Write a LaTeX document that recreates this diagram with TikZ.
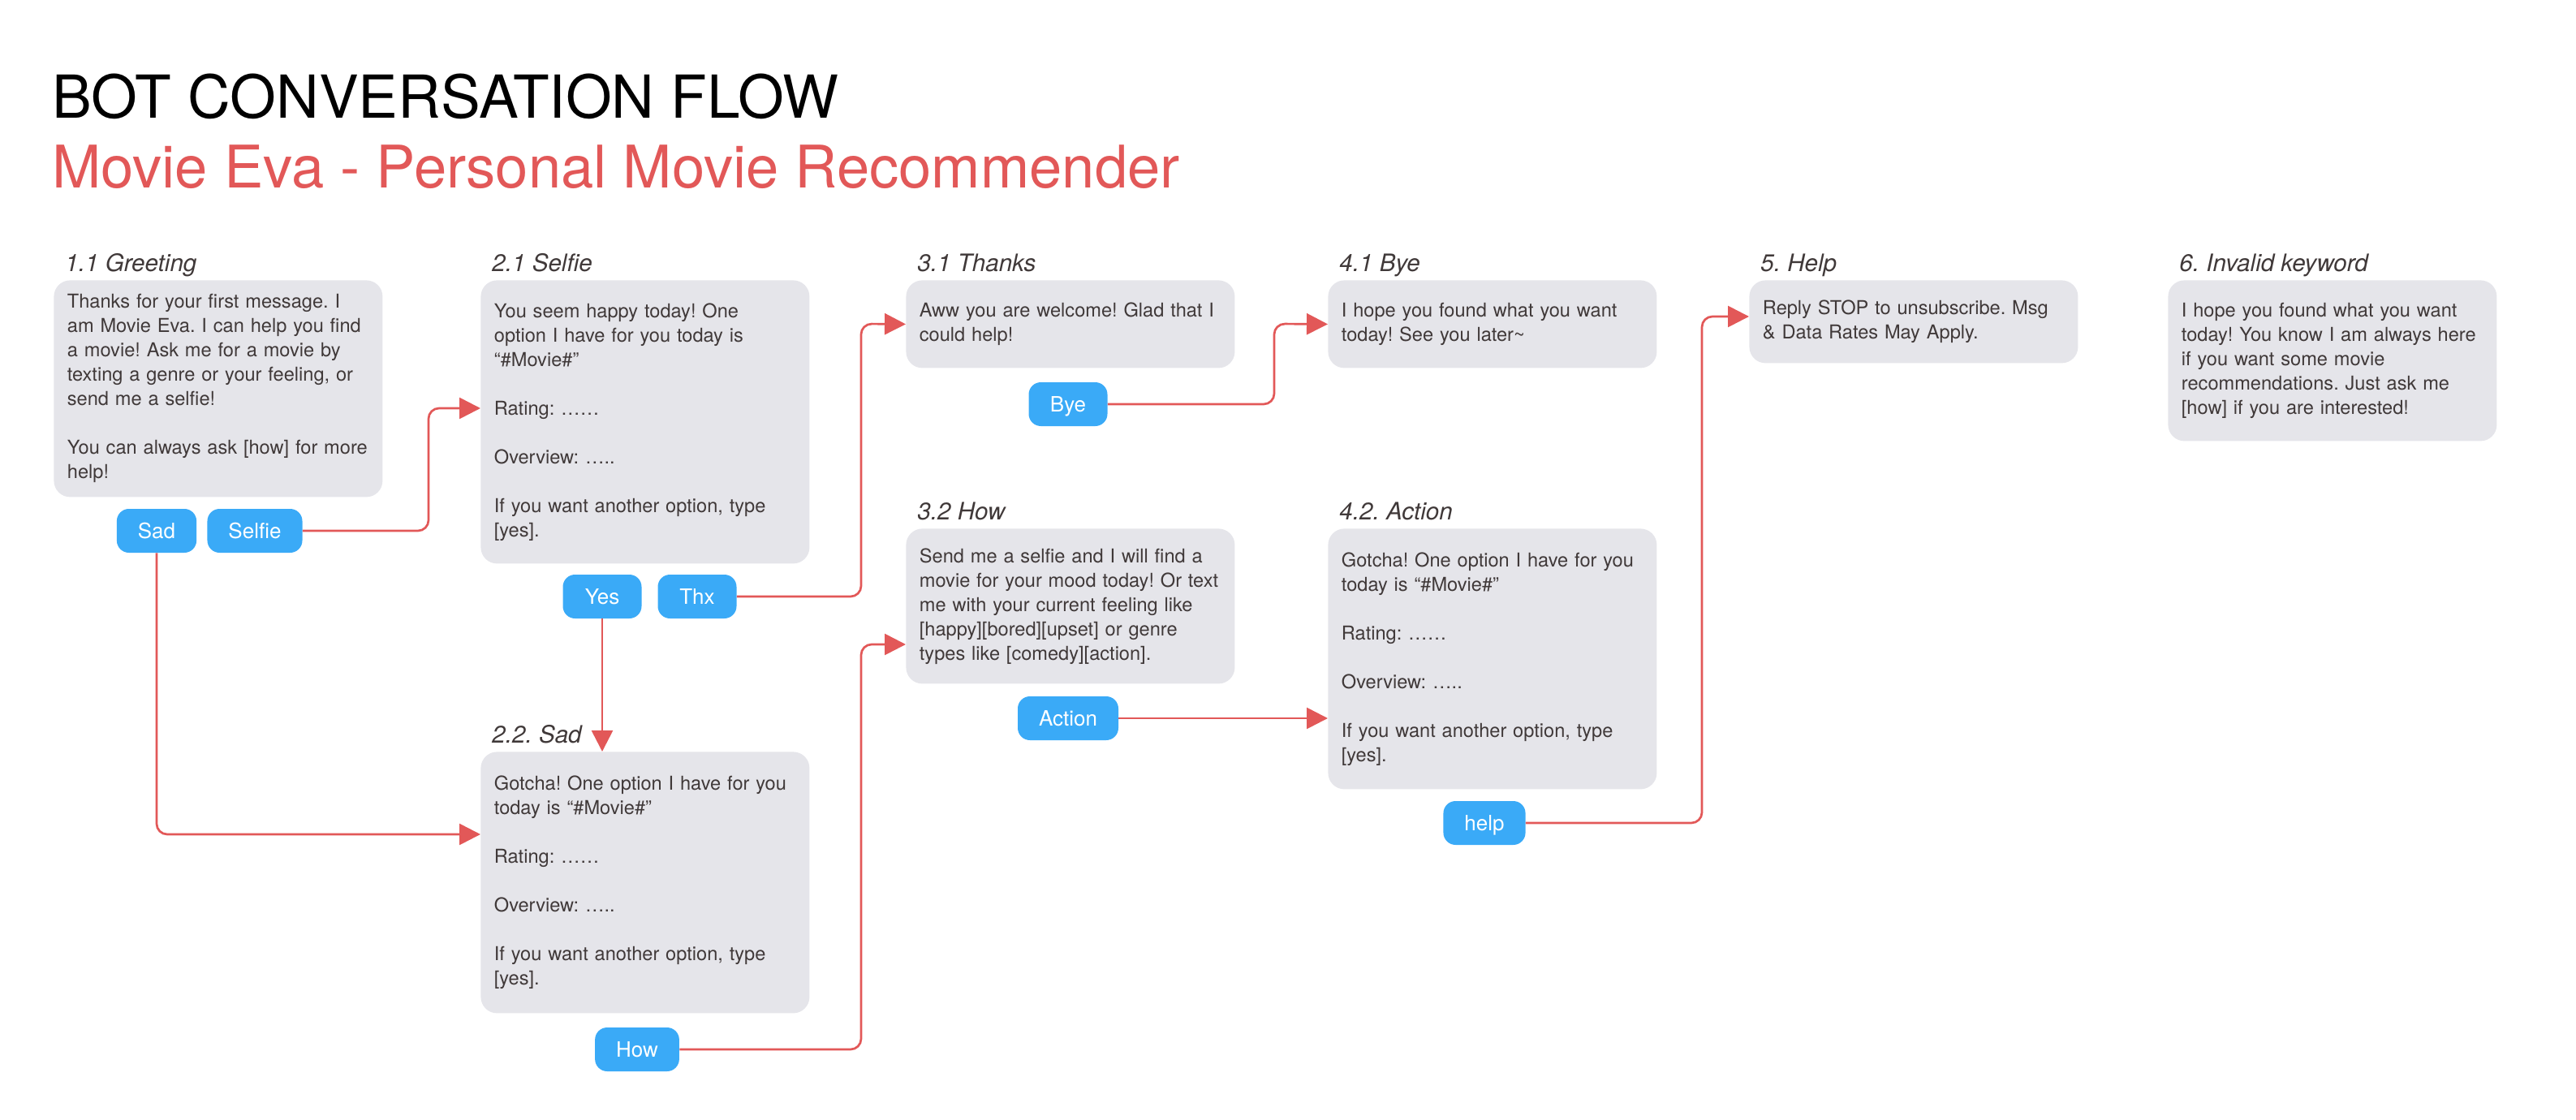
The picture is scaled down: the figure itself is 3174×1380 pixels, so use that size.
\documentclass[tikz,border=0pt]{standalone}
\usepackage{fontspec}
\setmainfont{TeX Gyre Heros}
\usetikzlibrary{arrows.meta}
\frenchspacing

\definecolor{bubble}{RGB}{229,229,234}
\definecolor{keyblue}{RGB}{58,170,247}
\definecolor{flowred}{RGB}{226,88,88}
\definecolor{inkgray}{RGB}{64,57,57}

\begin{document}
\begin{tikzpicture}[x=0.5pt, y=-0.5pt,
  msg/.style={fill=bubble, rounded corners=10pt, anchor=north west, align=left,
    text width=186pt, inner xsep=8.25pt, inner ysep=0pt, text=inkgray,
    font=\fontsize{11.8}{15}\selectfont},
  stage/.style={anchor=base west, inner sep=0pt, text=inkgray,
    font=\fontsize{14.8}{18}\selectfont\itshape},
  key/.style={fill=keyblue, text=white, rounded corners=7.5pt, minimum height=27pt,
    minimum width=48.5pt, inner xsep=13pt, text height=9.4pt, text depth=0pt,
    font=\fontsize{13}{15}\selectfont},
  flow/.style={draw=flowred, line width=1.35pt, rounded corners=6.5pt,
    -{Triangle[length=13pt, width=13pt]}}]
\useasboundingbox (0,0) rectangle (3174,1380);

% Heading
\node[anchor=base west, inner sep=0pt, font=\fontsize{36.5}{40}\selectfont] (head) at (64,146) {BOT CONVERSATION FLOW};
\node[anchor=base west, inner sep=0pt, text=flowred, font=\fontsize{36.2}{40}\selectfont] (subhead) at (64,232) {Movie Eva - Personal Movie Recommender};

% Message bubbles, first row
\node[msg, minimum height=133.5pt] (greeting) at (66,345) {Thanks for your first message. I\\am Movie Eva. I can help you find\\a movie! Ask me for a movie by\\texting a genre or your feeling, or\\send me a selfie!\\[15pt]You can always ask [how] for more\\help!};
\node[msg, minimum height=174.5pt] (selfie) at (592,345) {You seem happy today! One\\option I have for you today is\\“\#Movie\#”\\[15pt]Rating: ……\\[15pt]Overview: …..\\[15pt]If you want another option, type\\{}[yes].};
\node[msg, minimum height=54pt] (thanks) at (1116,345) {Aww you are welcome! Glad that I\\could help!};
\node[msg, minimum height=54pt] (bye) at (1636,345) {I hope you found what you want\\today! See you later\textasciitilde};
\node[msg, minimum height=51pt] (help) at (2155,345) {Reply STOP to unsubscribe. Msg\\\& Data Rates May Apply.};
\node[msg, minimum height=99pt] (invalid) at (2671,345) {I hope you found what you want\\today! You know I am always here\\if you want some movie\\recommendations. Just ask me\\{}[how] if you are interested!};

% Message bubbles, lower rows
\node[msg, minimum height=95.5pt] (how) at (1116,651) {Send me a selfie and I will find a\\movie for your mood today! Or text\\me with your current feeling like\\{}[happy][bored][upset] or genre\\types like [comedy][action].};
\node[msg, minimum height=160.5pt] (action) at (1636,651) {Gotcha! One option I have for you\\today is “\#Movie\#”\\[15pt]Rating: ……\\[15pt]Overview: …..\\[15pt]If you want another option, type\\{}[yes].};
\node[msg, minimum height=161pt] (sad) at (592,926) {Gotcha! One option I have for you\\today is “\#Movie\#”\\[15pt]Rating: ……\\[15pt]Overview: …..\\[15pt]If you want another option, type\\{}[yes].};

% Stage titles
\node[stage] (greetingTag) at ([shift={(14,-11)}]greeting.north west) {1.1 Greeting};
\node[stage] (selfieTag) at ([shift={(14,-11)}]selfie.north west) {2.1 Selfie};
\node[stage] (sadTag) at ([shift={(14,-11)}]sad.north west) {2.2. Sad};
\node[stage] (thanksTag) at ([shift={(14,-11)}]thanks.north west) {3.1 Thanks};
\node[stage] (howTag) at ([shift={(14,-11)}]how.north west) {3.2 How};
\node[stage] (byeTag) at ([shift={(14,-11)}]bye.north west) {4.1 Bye};
\node[stage] (actionTag) at ([shift={(14,-11)}]action.north west) {4.2. Action};
\node[stage] (helpTag) at ([shift={(14,-11)}]help.north west) {5. Help};
\node[stage] (invalidTag) at ([shift={(14,-11)}]invalid.north west) {6. Invalid keyword};

% Keyword buttons
\node[key, minimum width=45.5pt] (btnSad) at (193,654) {Sad};
\node[key] (btnSelfie) at (314,654) {Selfie};
\node[key] (btnYes) at (742,735) {Yes};
\node[key] (btnThx) at (859,735) {Thx};
\node[key] (btnBye) at (1316,498) {Bye};
\node[key] (btnHow) at (785,1293) {How};
\node[key] (btnAction) at (1316,885) {Action};
\node[key] (btnHelp) at (1829,1014) {help};

% Routes from buttons to bubbles
\draw[flow] (btnSelfie.east) -| (528,503) -- (selfie.west |- 0,503);
\draw[flow] (btnSad.south) |- (sad.west |- 0,1028);
\draw[flow] (btnYes.south) -- (btnYes.south |- sad.north);
\draw[flow] (btnThx.east) -| (1061,399) -- (thanks.west);
\draw[flow] (btnBye.east) -| (1570,399) -- (bye.west);
\draw[flow] (btnHow.east) -| (1061,794) -- (how.west |- 0,794);
\draw[flow] (btnAction.east) -- (action.west |- btnAction.east);
\draw[flow] (btnHelp.east) -| (2097,390) -- (help.west |- 0,390);

\end{tikzpicture}
\end{document}
